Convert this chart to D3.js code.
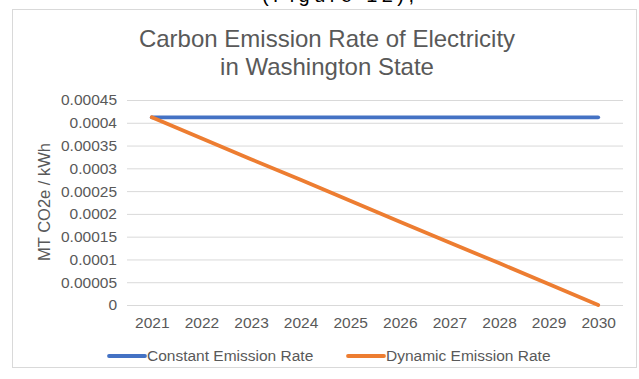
<!DOCTYPE html>
<html>
<head>
<meta charset="utf-8">
<script src="https://cdn.jsdelivr.net/npm/d3@7"></script>
<style>
  body { margin: 0; background: #fff; }
  svg { display: block; font-family: "Liberation Sans", Arial, sans-serif; }
</style>
</head>
<body>
<svg id="chart" width="639" height="379"></svg>
<script>
const years = ["2021", "2022", "2023", "2024", "2025", "2026", "2027", "2028", "2029", "2030"];
const constantRate = [0.000412, 0.000412, 0.000412, 0.000412, 0.000412, 0.000412, 0.000412, 0.000412, 0.000412, 0.000412];
const dynamicRate = [0.000412, 0.000366, 0.00032, 0.000275, 0.000229, 0.000183, 0.000137, 0.000092, 0.000046, 0];
const yTicks = [0, 0.00005, 0.0001, 0.00015, 0.0002, 0.00025, 0.0003, 0.00035, 0.0004, 0.00045];
const yTickLabels = ["0", "0.00005", "0.0001", "0.00015", "0.0002", "0.00025", "0.0003", "0.00035", "0.0004", "0.00045"];
const seriesNames = ["Constant Emission Rate", "Dynamic Emission Rate"];
const colors = ["#4472C4", "#ED7D31"];

const svg = d3.select("#chart");
const textColor = "#595959";

// cut-off caption from the document above the chart (only its lower edge shows)
svg.append("text")
    .attr("x", 262).attr("y", 2)
    .attr("textLength", 152).attr("lengthAdjust", "spacing")
    .style("font-size", "20px").attr("fill", "#000")
    .text("(Figure 12),");

// chart frame
svg.append("rect")
    .attr("x", 12.5).attr("y", 9.5)
    .attr("width", 624).attr("height", 358)
    .attr("fill", "#fff").attr("stroke", "#d9d9d9");

// title
const title = svg.append("text")
    .attr("text-anchor", "middle")
    .attr("fill", textColor)
    .style("font-size", "24px");
title.append("tspan").attr("x", 327).attr("y", 47).text("Carbon Emission Rate of Electricity");
title.append("tspan").attr("x", 327).attr("y", 75).text("in Washington State");

const plotLeft = 127, plotRight = 623, plotTop = 100, plotBottom = 305;

const x = d3.scalePoint().domain(years).range([plotLeft, plotRight]).padding(0.5);
const y = d3.scaleLinear().domain([0, 0.00045]).range([plotBottom, plotTop]);

// y axis with gridlines
const yAxis = svg.append("g")
    .attr("transform", `translate(${plotLeft},0)`)
    .call(d3.axisLeft(y)
        .tickValues(yTicks)
        .tickFormat((d, i) => yTickLabels[i])
        .tickSize(-(plotRight - plotLeft))
        .tickPadding(10));
yAxis.select(".domain").remove();
yAxis.selectAll(".tick line").attr("stroke", "#d9d9d9");
yAxis.selectAll(".tick text")
    .attr("fill", textColor)
    .style("font-size", "15.5px")
    .style("font-family", "'Liberation Sans', Arial, sans-serif");

// x axis
const xAxis = svg.append("g")
    .attr("transform", `translate(0,${plotBottom})`)
    .call(d3.axisBottom(x).tickSize(0).tickPadding(12));
xAxis.select(".domain").remove();
xAxis.selectAll(".tick text")
    .attr("fill", textColor)
    .style("font-size", "15.5px")
    .style("font-family", "'Liberation Sans', Arial, sans-serif");

// y axis title
svg.append("text")
    .attr("transform", "translate(50,202) rotate(-90)")
    .attr("text-anchor", "middle")
    .attr("fill", textColor)
    .style("font-size", "16.5px")
    .text("MT CO2e / kWh");

// lines
const line = d3.line()
    .x((d, i) => x(years[i]))
    .y(d => y(d));

[constantRate, dynamicRate].forEach((series, k) => {
    svg.append("path")
        .datum(series)
        .attr("d", line)
        .attr("fill", "none")
        .attr("stroke", colors[k])
        .attr("stroke-width", 3.8)
        .attr("stroke-linecap", "round")
        .attr("stroke-linejoin", "round");
});

// legend
const legendX = [109, 348];
seriesNames.forEach((name, k) => {
    const g = svg.append("g").attr("transform", `translate(${legendX[k]},356)`);
    g.append("line")
        .attr("x1", 0).attr("x2", 36)
        .attr("stroke", colors[k])
        .attr("stroke-width", 3.8)
        .attr("stroke-linecap", "round");
    g.append("text")
        .attr("x", 38).attr("dy", "0.35em")
        .attr("fill", textColor)
        .style("font-size", "15.5px")
        .text(name);
});
</script>
</body>
</html>
